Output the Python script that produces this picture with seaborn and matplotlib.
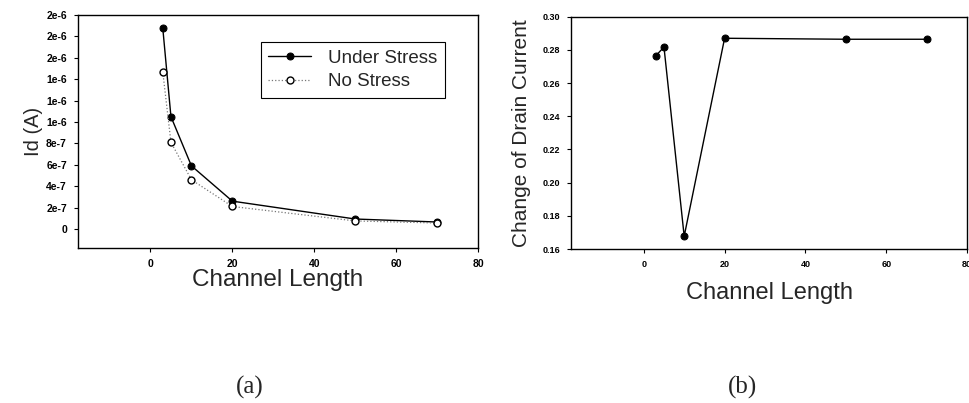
import matplotlib
matplotlib.use("Agg")
import matplotlib.pyplot as plt
import seaborn as sns
import numpy as np
import pandas as pd

# Channel lengths and measured values
channel_length = [3, 5, 10, 20, 50, 70]
id_under_stress = [1.88e-6, 1.05e-6, 5.9e-7, 2.6e-7, 9.3e-8, 6.5e-8]
id_no_stress = [1.47e-6, 8.1e-7, 4.6e-7, 2.1e-7, 7.5e-8, 5.6e-8]
change_drain = [0.2765, 0.2817, 0.1677, 0.287, 0.2864, 0.2864]

# Axis ticks as printed on the original
id_ticks = [0, 2e-7, 4e-7, 6e-7, 8e-7, 1e-6, 1.2e-6, 1.4e-6, 1.6e-6, 1.8e-6, 2e-6]
id_tick_labels = ["0", "2e-7", "4e-7", "6e-7", "8e-7", "1e-6", "1e-6", "1e-6", "2e-6", "2e-6", "2e-6"]
x_ticks = [0, 20, 40, 60, 80]
chg_ticks = [0.16, 0.18, 0.20, 0.22, 0.24, 0.26, 0.28, 0.30]

df_a = pd.DataFrame({"L": channel_length, "under": id_under_stress, "none": id_no_stress})
df_b = pd.DataFrame({"L": channel_length, "chg": change_drain})

sns.set_style("ticks")
plt.rcParams['font.family'] = ['Liberation Sans', 'DejaVu Sans']

fig = plt.figure(figsize=(9.69, 4.03), dpi=100)
ax1 = fig.add_axes([0.0805, 0.3854, 0.4128, 0.5774])
ax2 = fig.add_axes([0.5893, 0.3821, 0.4087, 0.5765])

# (a) drain current
sns.lineplot(data=df_a, x="L", y="under", ax=ax1, color="black", linewidth=1.0,
             marker="o", markersize=5, markerfacecolor="black", markeredgecolor="black",
             label="Under Stress")
sns.lineplot(data=df_a, x="L", y="none", ax=ax1, color="#777777", linewidth=0.9,
             linestyle=":", marker="o", markersize=5, markerfacecolor="white",
             markeredgecolor="black", markeredgewidth=1.0, label="No Stress")
ax1.set_xlim(-17.7, 80)
ax1.set_ylim(-1.75e-7, 2e-6)
ax1.set_yticks(id_ticks)
ax1.set_yticklabels(id_tick_labels)
ax1.set_xticks(x_ticks)
ax1.set_xlabel("Channel Length", fontsize=17.5, labelpad=0.5)
ax1.set_ylabel("Id (A)", fontsize=14.5, labelpad=2.5)
leg = ax1.legend(loc="upper right", bbox_to_anchor=(0.9175, 0.884), fontsize=13.5,
                 frameon=True, fancybox=False, edgecolor="black", framealpha=1,
                 handlelength=2.3, borderpad=0.4, labelspacing=0.35, handletextpad=0.9,
                 borderaxespad=0)
leg.get_frame().set_linewidth(0.8)

# (b) change of drain current
sns.lineplot(data=df_b, x="L", y="chg", ax=ax2, color="black", linewidth=1.0,
             marker="o", markersize=5, markerfacecolor="black", markeredgecolor="black")
ax2.set_xlim(-18, 80)
ax2.set_ylim(0.16, 0.30)
ax2.set_yticks(chg_ticks)
ax2.set_yticklabels([f"{v:.2f}" for v in chg_ticks])
ax2.set_xticks(x_ticks)
ax2.set_xlabel("Channel Length", fontsize=17, labelpad=9)
ax2.set_ylabel("Change of Drain Current", fontsize=15, labelpad=8)

for ax, ls in ((ax1, 7.5), (ax2, 6.5)):
    for sp in ax.spines.values():
        sp.set_visible(True)
        sp.set_color("black")
        sp.set_linewidth(1.0)
    ax.tick_params(direction="out", length=3, width=0.8, labelsize=ls, pad=5, colors="black")
    for lab in ax.get_xticklabels() + ax.get_yticklabels():
        lab.set_fontweight("bold")

fig.text(0.258, 1 - 387 / 403, "(a)", ha="center", va="center", fontsize=18,
         family=["Liberation Serif", "DejaVu Serif"])
fig.text(0.766, 1 - 387 / 403, "(b)", ha="center", va="center", fontsize=18,
         family=["Liberation Serif", "DejaVu Serif"])

fig.savefig("out.png", dpi=100)
